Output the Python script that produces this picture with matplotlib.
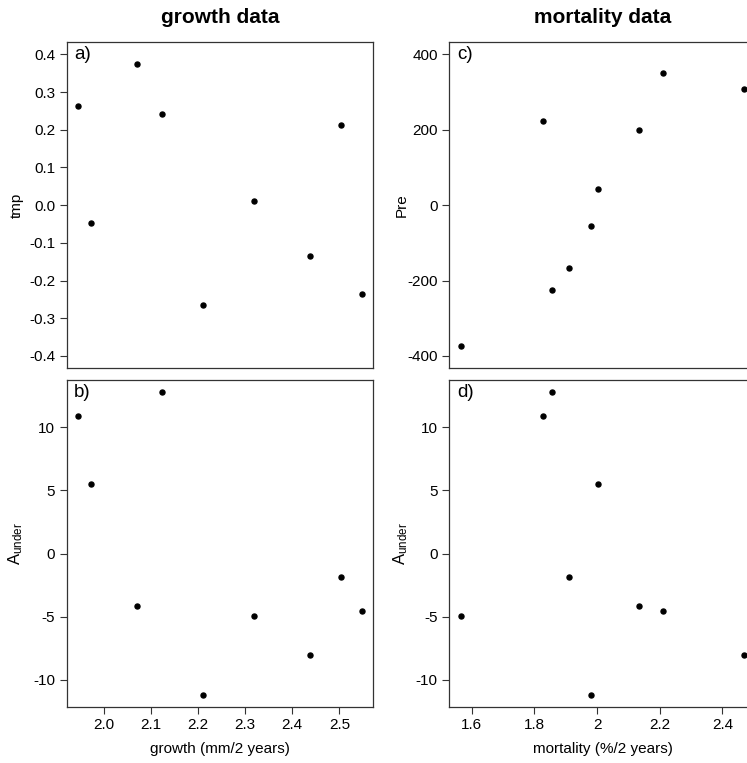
import matplotlib
matplotlib.use("Agg")
import matplotlib.pyplot as plt

plt.rcParams['font.family'] = ['Liberation Sans', 'DejaVu Sans']
plt.rcParams['mathtext.fontset'] = 'custom'
plt.rcParams['mathtext.rm'] = 'Liberation Sans'
plt.rcParams['mathtext.it'] = 'Liberation Sans'
plt.rcParams['axes.unicode_minus'] = False

# values, one entry per site
growth = [1.946, 1.9725, 2.071, 2.1235, 2.210, 2.3186, 2.4369, 2.5025, 2.547]
tmp = [0.262, -0.047, 0.375, 0.241, -0.264, 0.011, -0.134, 0.212, -0.235]
aunder = [10.9, 5.53, -4.15, 12.8, -11.19, -4.97, -8.07, -1.85, -4.58]
mortality = [1.826, 2.002, 2.133, 1.857, 1.980, 1.565, 2.470, 1.911, 2.209]
pre = [223.8, 43.3, 198.3, -225.7, -55.8, -372.5, 307.0, -165.5, 349.7]

growth_ticks = [2.0, 2.1, 2.2, 2.3, 2.4, 2.5]
tmp_ticks = [-0.4, -0.3, -0.2, -0.1, 0.0, 0.1, 0.2, 0.3, 0.4]
mort_ticks = [1.6, 1.8, 2.0, 2.2, 2.4]
mort_labels = ['1.6', '1.8', '2', '2.2', '2.4']
pre_ticks = [-400, -200, 0, 200, 400]
aunder_ticks = [-10, -5, 0, 5, 10]

W, H = 747, 763
fig = plt.figure(figsize=(W / 100, H / 100), dpi=100)

def px_axes(x0, top, w, h):
    return fig.add_axes([x0 / W, (H - top - h) / H, w / W, h / H])

ax_a = px_axes(66.7, 42.3, 306.3, 325.7)
ax_b = px_axes(66.7, 380.0, 306.3, 326.7)
ax_c = px_axes(449.4, 42.3, 306.3, 325.7)
ax_d = px_axes(449.4, 380.0, 306.3, 326.7)

frame = '#333333'
tick_fs = 11
for ax in (ax_a, ax_b, ax_c, ax_d):
    for s in ax.spines.values():
        s.set_color(frame)
        s.set_linewidth(0.9)
    ax.tick_params(direction='out', length=4.8, width=0.8, color=frame,
                   labelsize=tick_fs, pad=3.5)
    ax.margins(x=0.04, y=0.04)

# a) growth vs tmp
ax_a.plot(growth, tmp, 'o', color='black', markersize=3.6)
ax_a.set_ylim(-0.432, 0.432)
ax_a.set_yticks(tmp_ticks)
ax_a.set_yticklabels([f'{v:.1f}' for v in tmp_ticks])
ax_a.set_xticks([])

# b) growth vs A_under
ax_b.plot(growth, aunder, 'o', color='black', markersize=3.6)
ax_b.set_yticks(aunder_ticks)
ax_b.set_xticks(growth_ticks)
ax_b.set_xticklabels([f'{v:.1f}' for v in growth_ticks])

# c) mortality vs Pre
ax_c.plot(mortality, pre, 'o', color='black', markersize=3.6)
ax_c.set_ylim(-432, 432)
ax_c.set_yticks(pre_ticks)
ax_c.set_xticks([])

# d) mortality vs A_under
ax_d.plot(mortality, aunder, 'o', color='black', markersize=3.6)
ax_d.set_yticks(aunder_ticks)
ax_d.set_xticks(mort_ticks)
ax_d.set_xticklabels(mort_labels)

# shared x ranges for the columns
ax_a.set_xlim(ax_b.get_xlim())
ax_c.set_xlim(ax_d.get_xlim())

# y labels
lab_fs = 11
ax_a.set_ylabel('tmp', fontsize=lab_fs)
ax_a.yaxis.set_label_coords(-0.139, 0.5)
ax_b.set_ylabel(r'$\mathrm{A}_{\mathrm{under}}$', fontsize=lab_fs + 1)
ax_b.yaxis.set_label_coords(-0.137, 0.5)
ax_c.set_ylabel('Pre', fontsize=lab_fs)
ax_c.yaxis.set_label_coords(-0.132, 0.5)
ax_d.set_ylabel(r'$\mathrm{A}_{\mathrm{under}}$', fontsize=lab_fs + 1)
ax_d.yaxis.set_label_coords(-0.130, 0.5)

# x labels
ax_b.text(0.5, -0.13, 'growth (mm/2 years)', transform=ax_b.transAxes,
          ha='center', va='center', fontsize=lab_fs)
ax_d.text(0.5, -0.13, 'mortality (%/2 years)', transform=ax_d.transAxes,
          ha='center', va='center', fontsize=lab_fs)

# panel letters
for ax, lab in ((ax_a, 'a)'), (ax_b, 'b)'), (ax_c, 'c)'), (ax_d, 'd)')):
    ax.text(0.024, 0.988, lab, transform=ax.transAxes, ha='left', va='top',
            fontsize=13.5)

# column titles
ax_a.text(0.5, 1.0 + 25 / 325.7, 'growth data', transform=ax_a.transAxes,
          ha='center', va='center', fontsize=15, fontweight='bold')
ax_c.text(0.5, 1.0 + 25 / 325.7, 'mortality data', transform=ax_c.transAxes,
          ha='center', va='center', fontsize=15, fontweight='bold')

fig.savefig('out.png', dpi=100)
